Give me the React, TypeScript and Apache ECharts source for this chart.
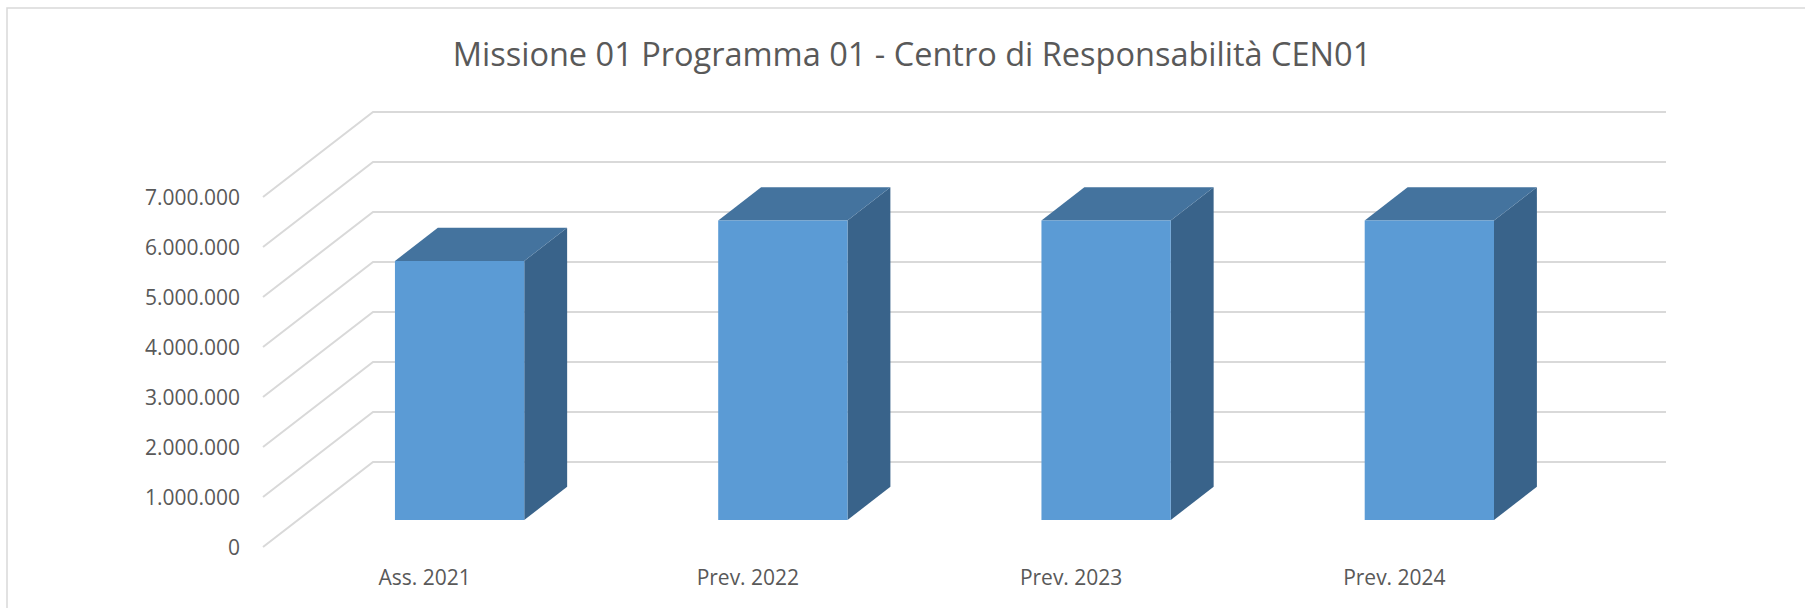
import React, { useEffect, useRef } from "react";
import * as echarts from "echarts";

const titleText = "Missione 01 Programma 01 - Centro di Responsabilità CEN01";
const categories = ["Ass. 2021", "Prev. 2022", "Prev. 2023", "Prev. 2024"];
const values = [5180000, 5990000, 5990000, 5990000];
const yTicks = [0, 1000000, 2000000, 3000000, 4000000, 5000000, 6000000, 7000000];

const DX = 110;
const DY = -85;
const F0 = 0.318;
const F1 = 0.708;
const BAR_W = 0.4;

const fmt = (n: number) => String(n).replace(/\B(?=(\d{3})+(?!\d))/g, ".");

export default function App() {
  const ref = useRef<HTMLDivElement>(null);
  useEffect(() => {
    document.body.style.margin = "0";
    const chart = echarts.init(ref.current!, null, { renderer: "svg" });
    const font = "'Open Sans', sans-serif";
    chart.setOption({
      animation: false,
      backgroundColor: "#ffffff",
      grid: { left: 263, right: 249, top: 197, bottom: 61, outerBoundsMode: "none" },
      xAxis: {
        type: "category",
        data: categories,
        axisLine: { show: false },
        axisTick: { show: false },
        splitLine: { show: false },
        axisLabel: { margin: 19, fontSize: 21, color: "#595959", fontFamily: font },
      },
      yAxis: {
        type: "value",
        min: 0,
        max: 7000000,
        interval: 1000000,
        axisLine: { show: false },
        axisTick: { show: false },
        splitLine: { show: false },
        axisLabel: { margin: 23, fontSize: 21, color: "#595959", fontFamily: font, formatter: (v: number) => fmt(v) },
      },
      graphic: [
        {
          type: "rect",
          shape: { x: 7, y: 8, width: 1900, height: 800 },
          style: { fill: "none", stroke: "#d9d9d9", lineWidth: 1.5 },
          silent: true,
          z: 0,
        },
        {
          type: "text",
          x: 912,
          y: 53,
          style: {
            text: titleText,
            fontSize: 32.5,
            fontFamily: font,
            fill: "#595959",
            align: "center",
            verticalAlign: "middle",
          },
        },
      ],
      series: [
        {
          type: "custom",
          z: 1,
          data: yTicks.map((v) => [0, v]),
          encode: { x: 0, y: 1 },
          renderItem: (params: any, api: any) => {
            const cs = params.coordSys;
            const y = api.coord([0, api.value(1)])[1];
            const x0 = cs.x;
            return {
              type: "polyline",
              shape: {
                points: [
                  [x0, y],
                  [x0 + DX, y + DY],
                  [x0 + cs.width + DX, y + DY],
                ],
              },
              style: { stroke: "#d9d9d9", lineWidth: 2, fill: "none" },
            };
          },
        },
        {
          type: "custom",
          z: 2,
          data: categories.map((c, i) => [i, values[i]]),
          encode: { x: 0, y: 1 },
          renderItem: (params: any, api: any) => {
            const idx = api.value(0);
            const val = api.value(1);
            const top = api.coord([idx, val]);
            const bot = api.coord([idx, 0]);
            const band = api.size([1, 0])[0];
            const xl = top[0] - (band * BAR_W) / 2;
            const xr = top[0] + (band * BAR_W) / 2;
            const yt = top[1];
            const yb = bot[1];
            const fx0 = F0 * DX, fy0 = F0 * DY, fx1 = F1 * DX, fy1 = F1 * DY;
            return {
              type: "group",
              children: [
                {
                  type: "polygon",
                  shape: {
                    points: [
                      [xr + fx0, yt + fy0],
                      [xr + fx1, yt + fy1],
                      [xr + fx1, yb + fy1],
                      [xr + fx0, yb + fy0],
                    ],
                  },
                  style: { fill: "#39638a" },
                },
                {
                  type: "polygon",
                  shape: {
                    points: [
                      [xl + fx0, yt + fy0],
                      [xr + fx0, yt + fy0],
                      [xr + fx1, yt + fy1],
                      [xl + fx1, yt + fy1],
                    ],
                  },
                  style: { fill: "#44739e" },
                },
                {
                  type: "rect",
                  shape: { x: xl + fx0, y: yt + fy0, width: xr - xl, height: yb - yt },
                  style: { fill: "#5b9bd5" },
                },
              ],
            };
          },
        },
      ],
    });
    return () => chart.dispose();
  }, []);
  return <div ref={ref} style={{ width: 1805, height: 608 }} />;
}
